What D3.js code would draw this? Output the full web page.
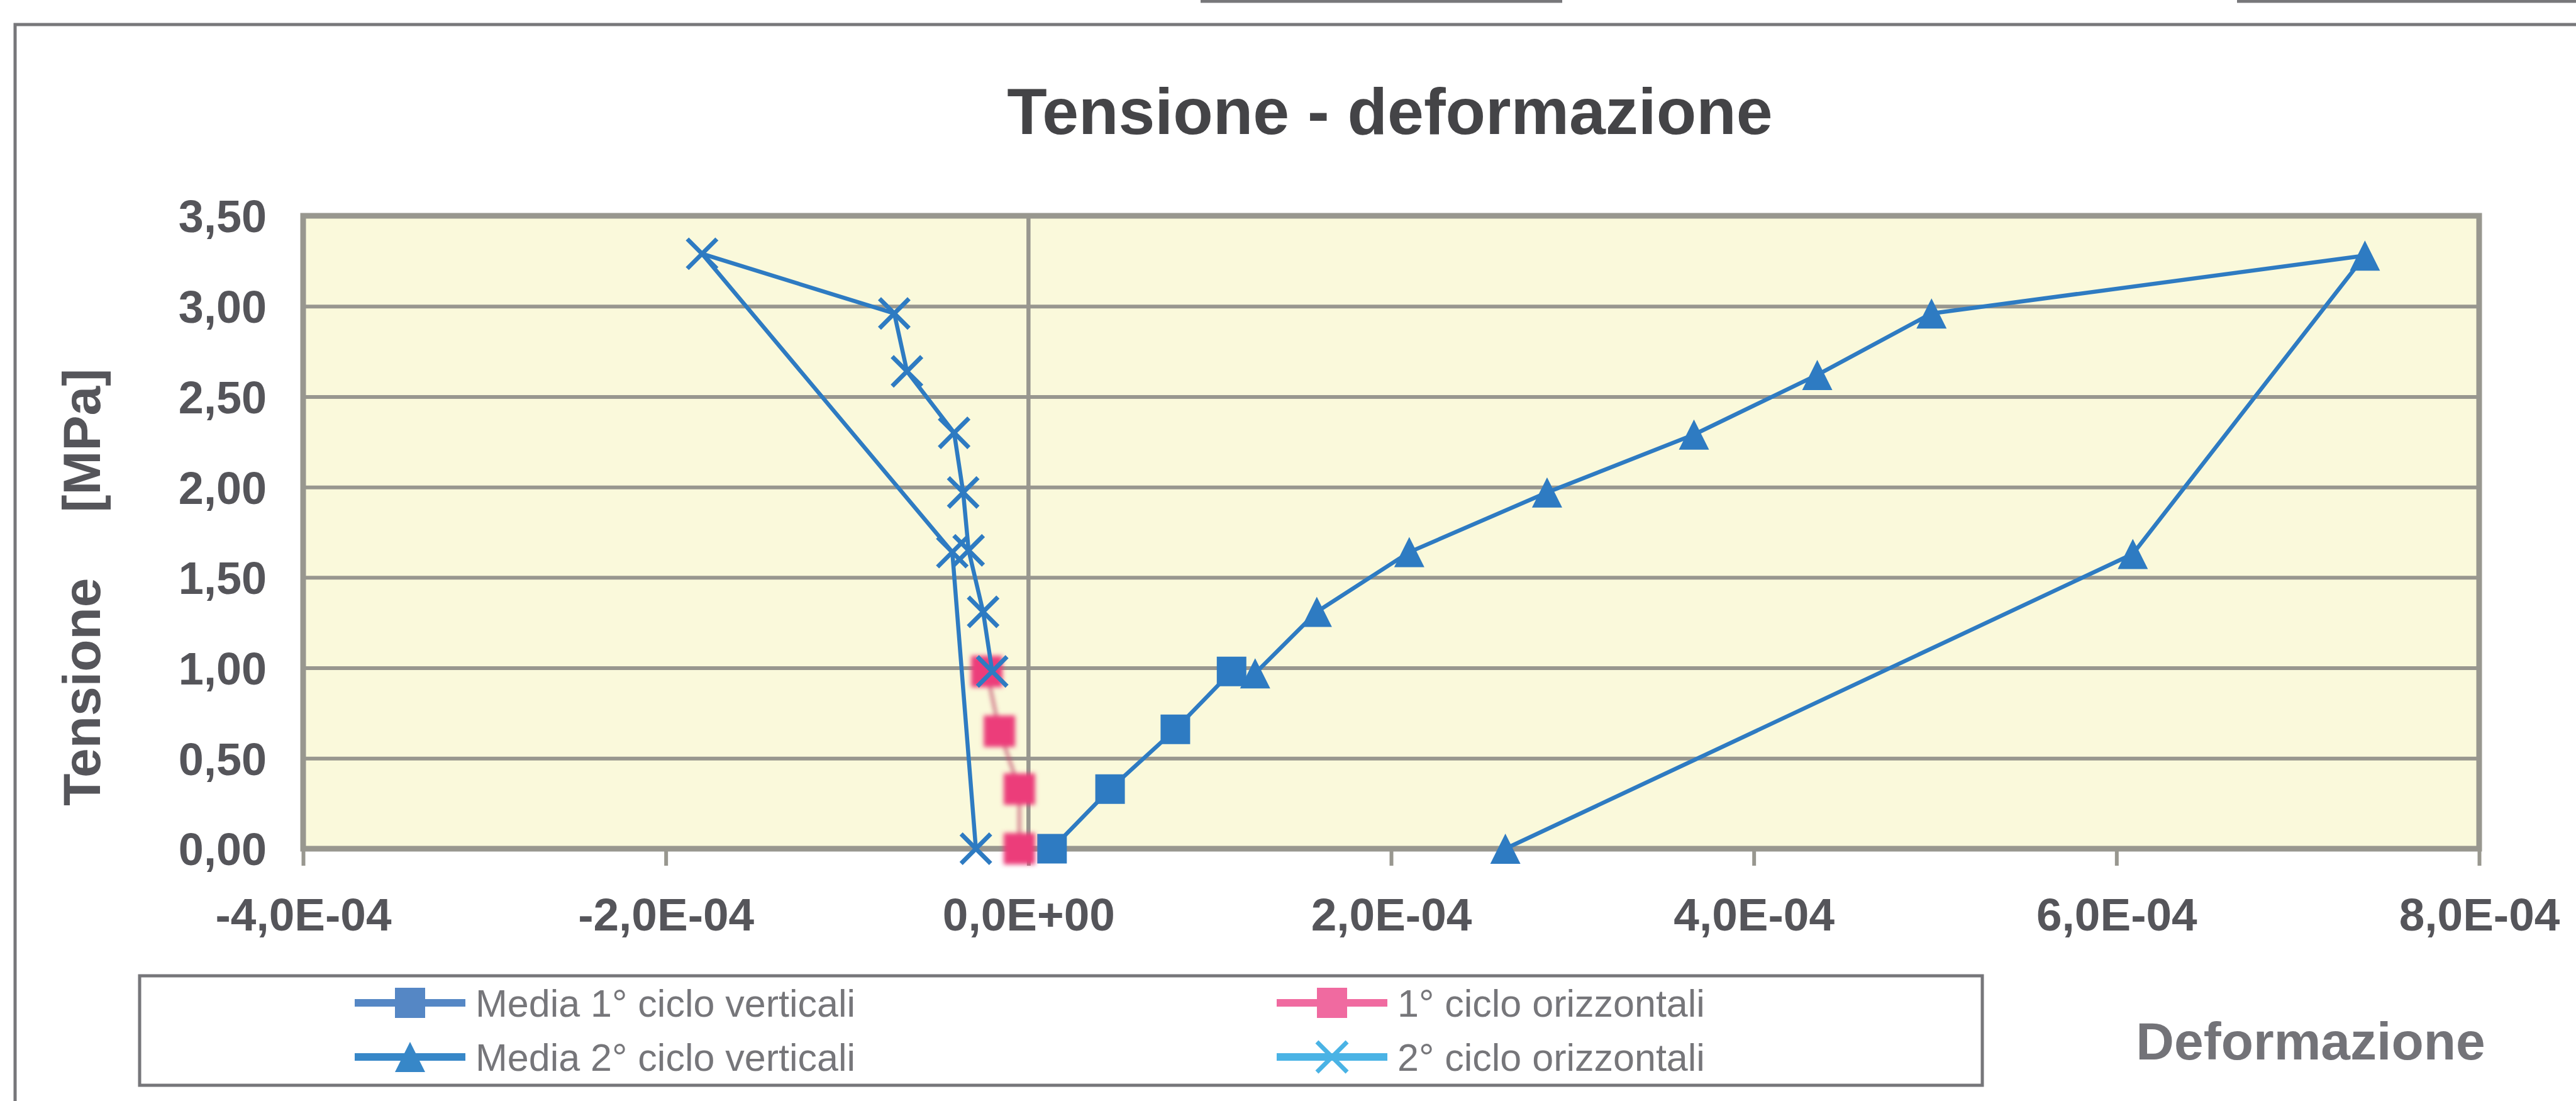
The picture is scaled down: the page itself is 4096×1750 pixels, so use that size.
<!DOCTYPE html>
<html>
<head>
<meta charset="utf-8">
<script src="https://cdn.jsdelivr.net/npm/d3@7"></script>
<style>
  html, body { margin: 0; padding: 0; background: #ffffff; }
  svg { display: block; font-family: "Liberation Sans", Arial, Helvetica, sans-serif; }
</style>
</head>
<body>
<svg id="chart" width="4096" height="1750"></svg>
<script>
// ---- axis ticks -------------------------------------------------------
const xTickValues = [-4e-4, -2e-4, 0, 2e-4, 4e-4, 6e-4, 8e-4];
const xTickLabels = ["-4,0E-04", "-2,0E-04", "0,0E+00", "2,0E-04", "4,0E-04", "6,0E-04", "8,0E-04"];
const yTickValues = [0, 0.5, 1, 1.5, 2, 2.5, 3, 3.5];
const yTickLabels = ["0,00", "0,50", "1,00", "1,50", "2,00", "2,50", "3,00", "3,50"];

// ---- series (deformazione [-], tensione [MPa]) ------------------------
const seriesNames = ["Media 1° ciclo verticali", "1° ciclo orizzontali",
                     "Media 2° ciclo verticali", "2° ciclo orizzontali"];

const media1Strain = [0.13e-4, 0.45e-4, 0.81e-4, 1.12e-4];
const media1Stress = [0.00, 0.33, 0.66, 0.98];

const oriz1Strain = [-0.05e-4, -0.05e-4, -0.16e-4, -0.23e-4];
const oriz1Stress = [0.00, 0.33, 0.65, 0.98];

const media2Strain = [1.25e-4, 1.59e-4, 2.10e-4, 2.86e-4, 3.67e-4, 4.35e-4, 4.98e-4, 7.37e-4, 6.09e-4, 2.63e-4];
const media2Stress = [0.97, 1.31, 1.64, 1.97, 2.29, 2.62, 2.96, 3.28, 1.63, 0.00];

const oriz2Strain = [-0.20e-4, -0.25e-4, -0.33e-4, -0.36e-4, -0.41e-4, -0.67e-4, -0.74e-4, -1.80e-4, -0.42e-4, -0.29e-4];
const oriz2Stress = [0.98, 1.31, 1.65, 1.97, 2.30, 2.64, 2.96, 3.29, 1.64, 0.00];

// ---- layout & styles --------------------------------------------------
const W = 4096, H = 1750;
const plot = { left: 482, right: 3942, top: 343, bottom: 1349 };
const gridColor = "#98978f";
const blue = "#2e7bc2";

const seriesData = [
  d3.zip(media1Strain, media1Stress),
  d3.zip(oriz1Strain, oriz1Stress),
  d3.zip(media2Strain, media2Stress),
  d3.zip(oriz2Strain, oriz2Stress)
];
const seriesStyle = [
  { line: blue, lineWidth: 6.5, marker: blue, symbol: "square", size: 47, key: "#5587c5", slot: [0, 0] },
  { line: "#c2506f", lineWidth: 4, marker: "#ec3c7a", symbol: "square", size: 50, key: "#f06aa0", slot: [1, 0], blur: true },
  { line: blue, lineWidth: 6.5, marker: blue, symbol: "triangle", size: 48, key: "#3787c8", slot: [0, 1] },
  { line: blue, lineWidth: 6.5, marker: blue, symbol: "x", size: 47, key: "#4ab3e5", slot: [1, 1] }
];

// marker shapes (bounding box centred on the point)
const symbolTypes = {
  square: d3.symbolSquare,
  triangle: {
    draw(ctx, size) {
      const s = Math.sqrt(size);
      ctx.moveTo(0, -s / 2);
      ctx.lineTo(s / 2, s / 2);
      ctx.lineTo(-s / 2, s / 2);
      ctx.closePath();
    }
  },
  x: {
    draw(ctx, size) {
      const r = Math.sqrt(size) / 2;
      ctx.moveTo(-r, -r); ctx.lineTo(r, r);
      ctx.moveTo(r, -r); ctx.lineTo(-r, r);
    }
  }
};

const svg = d3.select("#chart");

const defs = svg.append("defs");
defs.append("filter").attr("id", "soft")
  .attr("x", "-50%").attr("y", "-50%").attr("width", "200%").attr("height", "200%")
  .append("feGaussianBlur").attr("stdDeviation", 3.5);

svg.append("rect").attr("width", W).attr("height", H).attr("fill", "#ffffff");

// page rules and chart frame
const frame = svg.append("g").attr("fill", "none").attr("stroke", "#77777a").attr("stroke-width", 5);
frame.append("path").attr("d", `M${W},39H24V${H}`);
frame.append("path").attr("d", "M1909,2H2484M3557,2H4096");

// ---- scales -----------------------------------------------------------
const x = d3.scaleLinear().domain([-4e-4, 8e-4]).range([plot.left, plot.right]);
const y = d3.scaleLinear().domain([0, 3.5]).range([plot.bottom, plot.top]);

// plot area
svg.append("rect")
  .attr("x", plot.left).attr("y", plot.top)
  .attr("width", plot.right - plot.left).attr("height", plot.bottom - plot.top)
  .attr("fill", "#faf9db");

// horizontal gridlines
const grid = svg.append("g")
  .attr("transform", `translate(${plot.left},0)`)
  .call(d3.axisLeft(y).tickValues(yTickValues.slice(1, -1))
    .tickSize(-(plot.right - plot.left)).tickFormat(""));
grid.select(".domain").remove();
grid.selectAll("line").attr("stroke", gridColor).attr("stroke-width", 6);

// vertical line at zero strain
svg.append("line")
  .attr("x1", x(0)).attr("x2", x(0)).attr("y1", y(3.5)).attr("y2", y(0))
  .attr("stroke", gridColor).attr("stroke-width", 6.5);

// plot border
svg.append("rect")
  .attr("x", plot.left).attr("y", plot.top)
  .attr("width", plot.right - plot.left).attr("height", plot.bottom - plot.top)
  .attr("fill", "none").attr("stroke", gridColor).attr("stroke-width", 9);

// x axis
const xAxis = svg.append("g")
  .attr("transform", `translate(0,${plot.bottom})`)
  .call(d3.axisBottom(x).tickValues(xTickValues)
    .tickFormat((d, i) => xTickLabels[i]).tickSize(27));
xAxis.select(".domain").remove();
xAxis.selectAll("line").attr("stroke", gridColor).attr("stroke-width", 6);
xAxis.selectAll("text")
  .attr("y", 130).attr("dy", null)
  .attr("fill", "#55555a").attr("font-size", 73).attr("font-weight", "bold")
  .attr("font-family", "Liberation Sans, Arial, sans-serif");

// y axis labels
const yAxis = svg.append("g")
  .attr("transform", `translate(${plot.left},0)`)
  .call(d3.axisLeft(y).tickValues(yTickValues)
    .tickFormat((d, i) => yTickLabels[i]).tickSize(0).tickPadding(58));
yAxis.select(".domain").remove();
yAxis.selectAll("text")
  .attr("dy", "0.36em")
  .attr("fill", "#55555a").attr("font-size", 72).attr("font-weight", "bold")
  .attr("font-family", "Liberation Sans, Arial, sans-serif");

// ---- series -----------------------------------------------------------
const lineGen = d3.line().x(d => x(d[0])).y(d => y(d[1]));

seriesData.forEach((data, i) => {
  const st = seriesStyle[i];
  const g = svg.append("g");
  if (st.blur) g.attr("filter", "url(#soft)");
  g.append("path")
    .attr("d", lineGen(data))
    .attr("fill", "none").attr("stroke", st.line)
    .attr("stroke-width", st.lineWidth).attr("stroke-linejoin", "round");
  const sym = d3.symbol().type(symbolTypes[st.symbol]).size(st.size * st.size);
  g.selectAll("path.mk").data(data).join("path")
    .attr("class", "mk")
    .attr("transform", d => `translate(${x(d[0])},${y(d[1])})`)
    .attr("d", sym)
    .attr("fill", st.symbol === "x" ? "none" : st.marker)
    .attr("stroke", st.symbol === "x" ? st.marker : "none")
    .attr("stroke-width", 7);
});

// ---- titles -----------------------------------------------------------
svg.append("text")
  .attr("x", 2210).attr("y", 213)
  .attr("text-anchor", "middle")
  .attr("font-size", 104).attr("font-weight", "bold").attr("fill", "#444447")
  .text("Tensione - deformazione");

const yTitle = svg.append("text")
  .attr("transform", "translate(159,1281) rotate(-90)")
  .attr("font-size", 84).attr("font-weight", "bold").attr("fill", "#55555a")
  .text("Tensione");
yTitle.append("tspan").attr("dx", 104).text("[MPa]");

svg.append("text")
  .attr("x", 3674).attr("y", 1684)
  .attr("text-anchor", "middle")
  .attr("font-size", 84).attr("font-weight", "bold").attr("fill", "#737378")
  .text("Deformazione");

// ---- legend -----------------------------------------------------------
const legend = svg.append("g");
legend.append("rect")
  .attr("x", 222).attr("y", 1551).attr("width", 2930).attr("height", 174)
  .attr("fill", "#ffffff").attr("stroke", "#76767a").attr("stroke-width", 5);

const legendCols = [652, 2118];
const legendRows = [1594, 1680];

seriesNames.forEach((name, i) => {
  const st = seriesStyle[i];
  const cx = legendCols[st.slot[0]], cy = legendRows[st.slot[1]];
  const item = legend.append("g");
  item.append("line")
    .attr("x1", cx - 88).attr("x2", cx + 88).attr("y1", cy).attr("y2", cy)
    .attr("stroke", st.key).attr("stroke-width", 12);
  const sym = d3.symbol().type(symbolTypes[st.symbol]).size(48 * 48);
  item.append("path")
    .attr("transform", `translate(${cx},${cy})`)
    .attr("d", sym)
    .attr("fill", st.symbol === "x" ? "none" : st.key)
    .attr("stroke", st.symbol === "x" ? st.key : "none")
    .attr("stroke-width", 7);
  item.append("text")
    .attr("x", cx + 104).attr("y", cy + 22)
    .attr("font-size", 61).attr("fill", "#76767a")
    .text(name);
});
</script>
</body>
</html>
